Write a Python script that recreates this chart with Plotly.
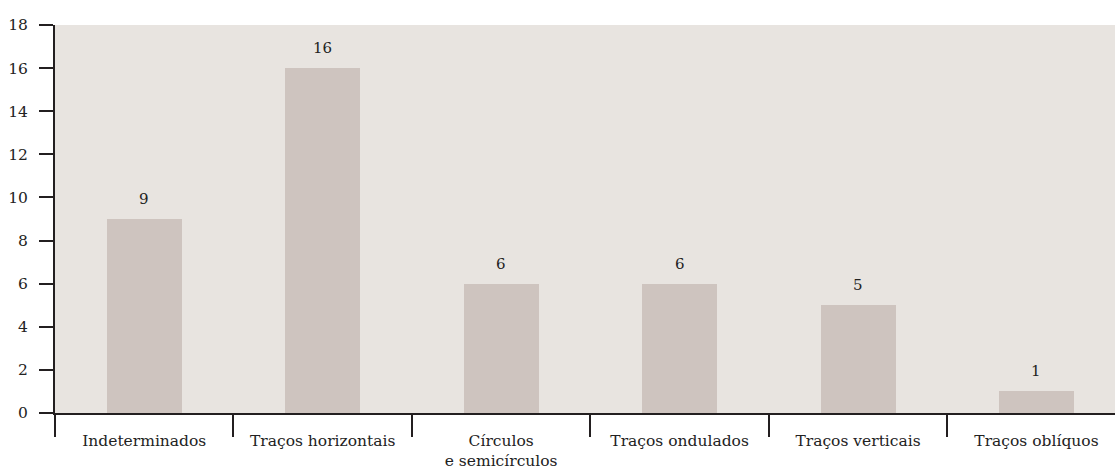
import plotly.graph_objects as go

categories = ["Indeterminados", "Traços horizontais", "Círculos<br>e semicírculos",
              "Traços ondulados", "Traços verticais", "Traços oblíquos"]
values = [9, 16, 6, 6, 5, 1]
y_ticks = [0, 2, 4, 6, 8, 10, 12, 14, 16, 18]

FONT = "DejaVu Serif"
DARK = "#231f20"
TEXT = "#222222"

fig = go.Figure()
fig.add_trace(go.Bar(
    x=categories, y=values,
    marker=dict(color="#cec4bf", line=dict(width=0)),
    width=0.42, hoverinfo="skip",
))

for c, v in zip(categories, values):
    fig.add_annotation(x=c, y=v, text=str(v), showarrow=False,
                       yanchor="bottom", yshift=9,
                       font=dict(family=FONT, size=15, color=TEXT))

fig.update_layout(
    width=1115, height=470,
    margin=dict(l=55, r=0, t=25, b=57),
    paper_bgcolor="white", plot_bgcolor="#e8e4e0",
    showlegend=False, bargap=0,
    font=dict(family=FONT, size=15, color=TEXT),
    xaxis=dict(
        type="category", range=[-0.5, 5.44], automargin=False,
        tickson="boundaries", ticks="outside", ticklen=22, tickwidth=2,
        ticklabelstandoff=12,
        tickcolor=DARK, showline=True, linecolor=DARK, linewidth=2,
        showgrid=False, zeroline=False, fixedrange=True,
        tickfont=dict(family=FONT, size=15.5, color=TEXT),
    ),
    yaxis=dict(
        range=[0, 18], tickmode="array", tickvals=y_ticks, automargin=False,
        ticks="outside", ticklen=14, tickwidth=2, tickcolor=DARK,
        ticklabelstandoff=8,
        showline=True, linecolor=DARK, linewidth=2,
        showgrid=False, zeroline=False, fixedrange=True,
        tickfont=dict(family=FONT, size=15.5, color=TEXT),
    ),
)

fig.write_html("out.html", config={"displayModeBar": False},
               post_script="document.body.style.margin='0';document.body.style.padding='0';")
